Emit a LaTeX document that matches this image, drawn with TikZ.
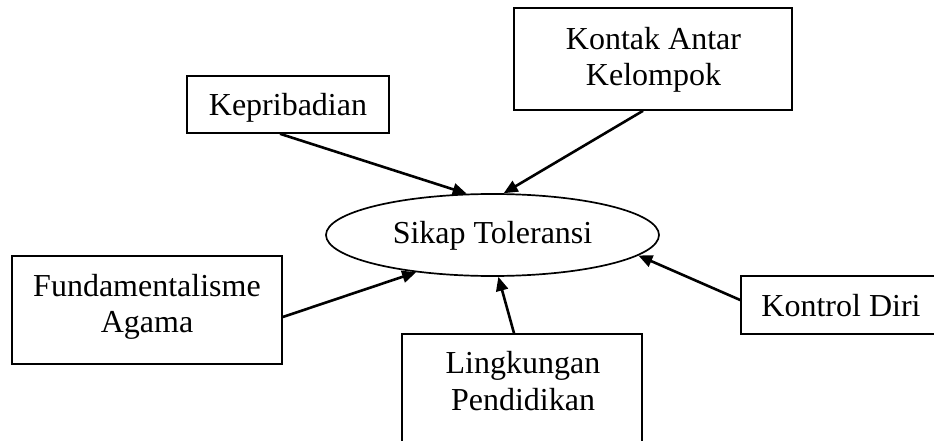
\documentclass[tikz,border=0pt]{standalone}
\usepackage{fontspec}
\setmainfont{Liberation Serif}
\usetikzlibrary{arrows.meta,shapes.geometric}
\tikzset{
  boxnode/.style={draw=black, line width=1.6pt, rectangle, inner sep=0pt, minimum width=#1},
  ovalnode/.style={draw=black, line width=1.7pt, ellipse, inner sep=0pt, minimum width=333pt, minimum height=82pt},
  txt/.style={anchor=base, inner sep=0pt, font=\fontsize{32}{36.5}\selectfont},
  arr/.style={line width=2.6pt, -{Triangle[length=14pt,width=12pt]}}
}
\begin{document}
\begin{tikzpicture}[x=1pt,y=-1pt]
\useasboundingbox (0,0) rectangle (934,441);
% boxes
\node[boxnode=202pt, minimum height=57pt] (kep) at (288,104.5) {};
\node[boxnode=278pt, minimum height=102pt] (kon) at (653,59) {};
\node[boxnode=270pt, minimum height=108pt] (fun) at (147,310) {};
\node[boxnode=240pt, minimum height=108pt] (lin) at (522,388) {};
\node[boxnode=200pt, minimum height=58pt] (ktr) at (841,305) {};
\node[ovalnode] (st) at (492.5,235) {};
% texts
\node[txt] (kepT) at (288,116) {Kepribadian};
\node[txt] (konT1) at (653.5,49.5) {Kontak Antar};
\node[txt] (konT2) at (653.5,86) {Kelompok};
\node[txt] (stT) at (492.5,243) {Sikap Toleransi};
\node[txt] (funT1) at (147,296) {Fundamentalisme};
\node[txt] (funT2) at (147,332.5) {Agama};
\node[txt] (linT1) at (523,373.5) {Lingkungan};
\node[txt] (linT2) at (523,410) {Pendidikan};
\node[txt] (ktrT) at (841,316.5) {Kontrol Diri};
% connectors
\draw[arr] ([xshift=-8pt]kep.south) -- (st.122);
\draw[arr] ([xshift=-10pt]kon.south) -- (st.75.6);
\draw[arr] ([yshift=-7pt]fun.east) -- (st.206.4);
\draw[arr] ([xshift=-8pt]lin.north) -- (st.-82.4);
\draw[arr] ([yshift=5pt]ktr.west) -- (st.-8);
\end{tikzpicture}
\end{document}
